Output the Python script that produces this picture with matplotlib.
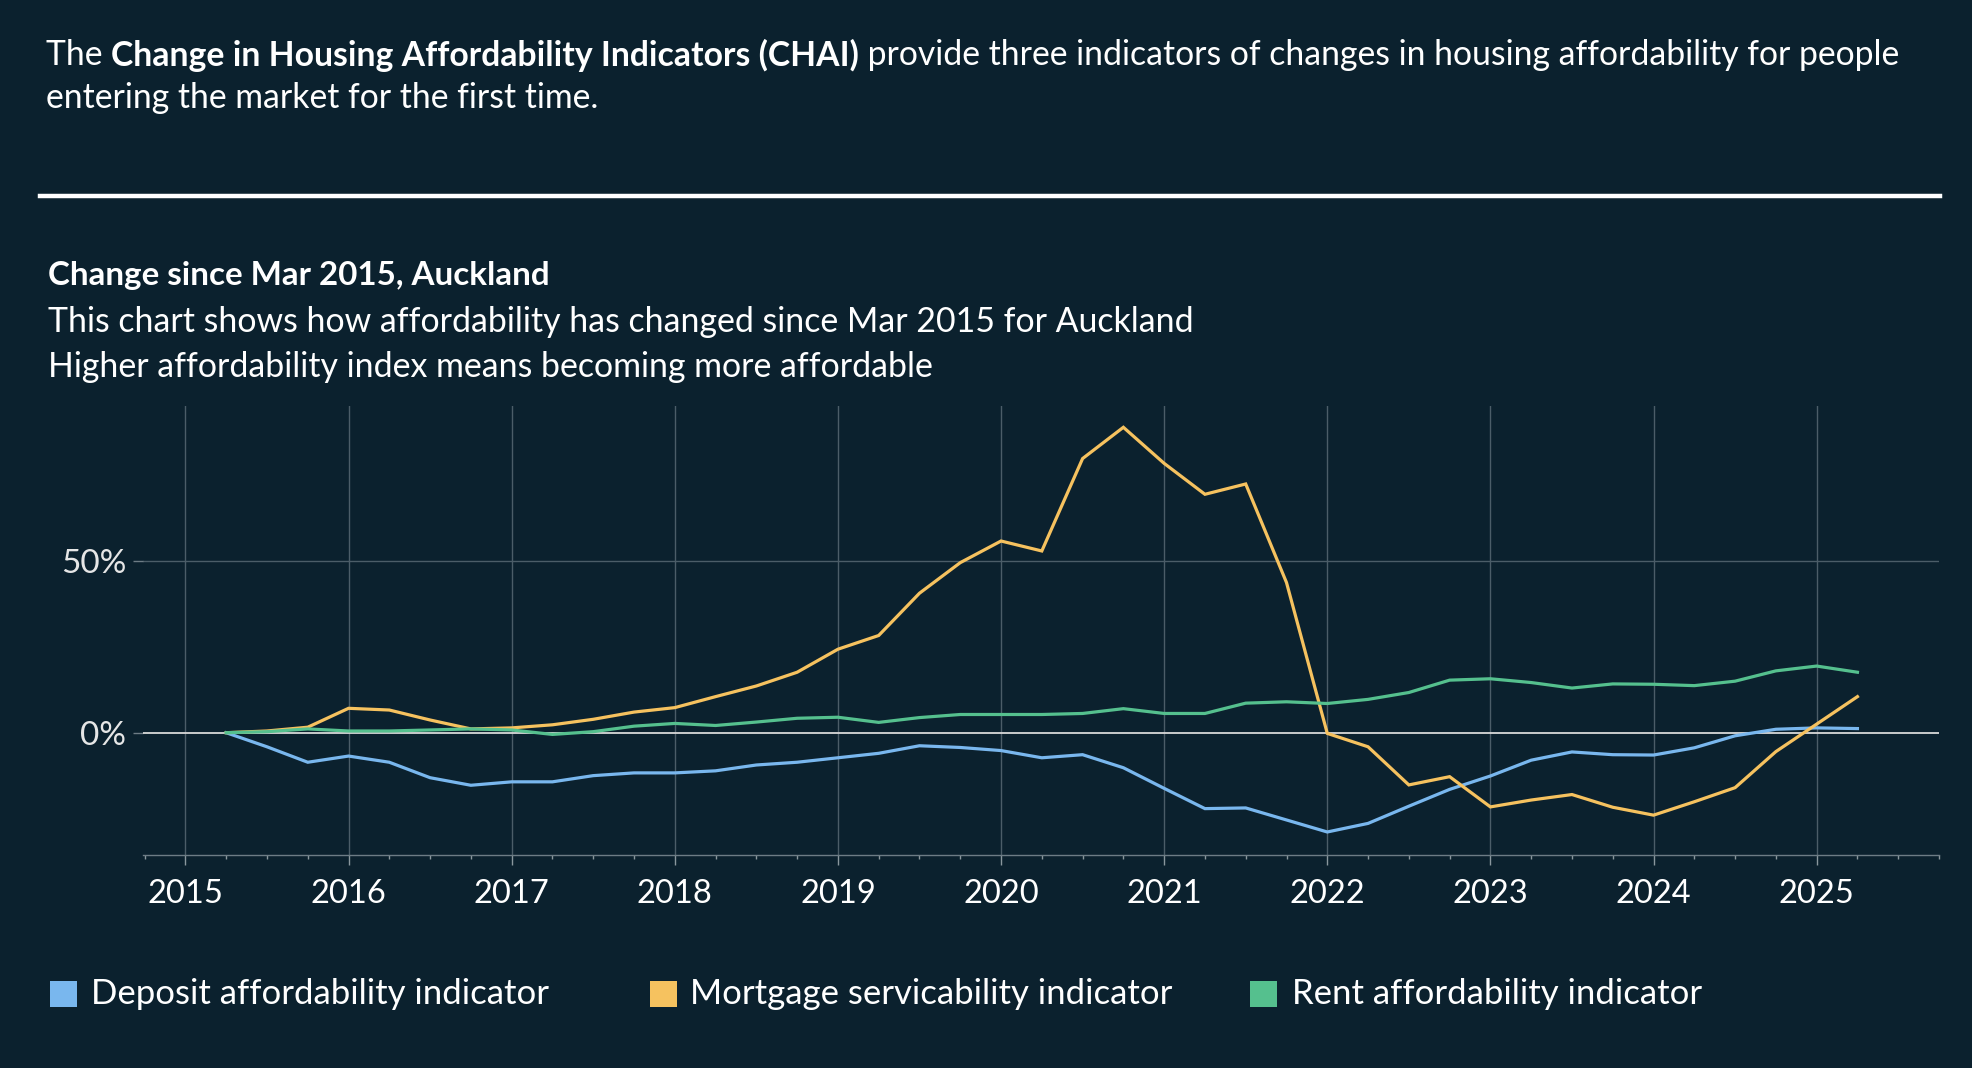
import numpy as np
import matplotlib
matplotlib.use("Agg")
import matplotlib.pyplot as plt
from matplotlib.ticker import FixedLocator, FuncFormatter

# ---- data (quarterly, Mar 2015 .. Mar 2025) ----
start_year = 2015.25
quarters = np.arange(41) * 0.25 + start_year

deposit = [0.0, -4.1, -8.6, -6.8, -8.6, -13.1, -15.3, -14.3, -14.3, -12.5,
           -11.7, -11.7, -11.1, -9.4, -8.6, -7.3, -6.0, -3.8, -4.3, -5.2,
           -7.3, -6.4, -10.2, -16.2, -22.1, -21.9, -25.4, -28.9, -26.4, -21.4,
           -16.5, -12.6, -8.0, -5.6, -6.4, -6.5, -4.4, -0.9, 1.0, 1.4, 1.2]
mortgage = [0.0, 0.5, 1.6, 7.1, 6.6, 3.7, 1.1, 1.4, 2.3, 3.9,
            6.0, 7.3, 10.5, 13.6, 17.6, 24.3, 28.3, 40.6, 49.5, 55.8,
            52.9, 79.8, 88.9, 78.4, 69.4, 72.4, 43.7, -0.2, -4.1, -15.2,
            -12.8, -21.6, -19.6, -18.0, -21.7, -24.0, -20.1, -16.0, -5.5, 2.5, 10.5]
rent = [0.0, 0.3, 1.1, 0.5, 0.5, 0.8, 1.1, 0.8, -0.5, 0.3,
        1.9, 2.7, 2.1, 3.1, 4.2, 4.5, 3.0, 4.4, 5.3, 5.3,
        5.3, 5.6, 7.0, 5.6, 5.6, 8.6, 9.0, 8.5, 9.7, 11.7,
        15.3, 15.7, 14.6, 13.0, 14.2, 14.1, 13.7, 15.0, 18.0, 19.4, 17.6]

series_names = ["Deposit affordability indicator",
                "Mortgage servicability indicator",
                "Rent affordability indicator"]
series_colors = ["#79b7ee", "#f6c25f", "#55c08e"]
year_ticks = list(range(2015, 2026))
y_ticks = [0, 50]

BG = "#0b212e"
W, H = 1972, 1068
fig = plt.figure(figsize=(W / 100, H / 100), dpi=100, facecolor=BG)
plt.rcParams['font.family'] = ['Lato', 'DejaVu Sans']

# ---- header paragraph with bold run ----
renderer = fig.canvas.get_renderer()
def run_text(x, y, parts, size):
    cx = x
    for txt, weight in parts:
        t = fig.text(cx / W, 1 - y / H, txt, fontsize=size, fontweight=weight,
                     color="white", va="center", ha="left")
        bb = t.get_window_extent(renderer=renderer)
        cx += bb.width
    return cx

hsize = 24.3
run_text(46, 55, [("The ", "normal"),
                  ("Change in Housing Affordability Indicators (CHAI)", "bold"),
                  (" provide three indicators of changes in housing affordability for people", "normal")], hsize)
run_text(46, 98, [("entering the market for the first time.", "normal")], hsize)

# divider
fig.add_artist(plt.Line2D([40 / W, 1940 / W], [1 - 196 / H, 1 - 196 / H],
                          color="white", lw=3.2, transform=fig.transFigure))

fig.text(48 / W, 1 - 275 / H, "Change since Mar 2015, Auckland", fontsize=23.9,
         fontweight="bold", color="white", va="center")
fig.text(48 / W, 1 - 322 / H, "This chart shows how affordability has changed since Mar 2015 for Auckland",
         fontsize=24.4, color="white", va="center")
fig.text(48 / W, 1 - 367 / H, "Higher affordability index means becoming more affordable",
         fontsize=24.4, color="white", va="center")

# ---- axes ----
left, right, top, bottom = 143, 1939, 406, 855
ax = fig.add_axes([left / W, 1 - bottom / H, (right - left) / W, (bottom - top) / H])
ax.set_facecolor(BG)
ax.set_xlim(2014.74, 2025.75)
ax.set_ylim(-35.6, 95.1)

grid_c = "#4b5d68"
for yr in year_ticks:
    ax.axvline(yr, color=grid_c, lw=1.0, zorder=1)
ax.axhline(50, color=grid_c, lw=1.0, zorder=1)
ax.axhline(0, color="#d9d9d9", lw=1.3, zorder=2)

for vals, c, name in zip([deposit, mortgage, rent], series_colors, series_names):
    ax.plot(quarters, vals, color=c, lw=2.3, label=name, zorder=3,
            solid_joinstyle="miter")

for s in ["top", "right", "left"]:
    ax.spines[s].set_visible(False)
ax.spines["bottom"].set_color("#6d7c85")
ax.spines["bottom"].set_linewidth(1.0)

ax.xaxis.set_major_locator(FixedLocator(year_ticks))
ax.xaxis.set_minor_locator(FixedLocator(np.arange(2014.75, 2025.76, 0.25)))
ax.xaxis.set_major_formatter(FuncFormatter(lambda v, p: f"{int(round(v))}"))
ax.tick_params(axis="x", which="major", length=7, width=1.0, color="#8a979e",
               labelsize=23.5, labelcolor="white", pad=10)
ax.tick_params(axis="x", which="minor", length=3, width=1.0, color="#8a979e")

ax.yaxis.set_major_locator(FixedLocator(y_ticks))
ax.yaxis.set_major_formatter(FuncFormatter(lambda v, p: f"{int(v)}%"))
ax.tick_params(axis="y", which="major", length=7, width=1.0, color="#6d7c85",
               labelsize=24, labelcolor="#e6e6e6", pad=5)

# ---- legend ----
leg_y = 994
for (sx, tx), c, name in zip([(50, 91), (650, 690), (1250, 1292)], series_colors, series_names):
    fig.add_artist(plt.Rectangle(((sx) / W, 1 - (leg_y + 13) / H), 27 / W, 26 / H,
                                 facecolor=c, edgecolor="none", transform=fig.transFigure))
    fig.text(tx / W, 1 - leg_y / H, name, fontsize=25, color="white", va="center")

fig.savefig("out.png", dpi=100, facecolor=BG)
